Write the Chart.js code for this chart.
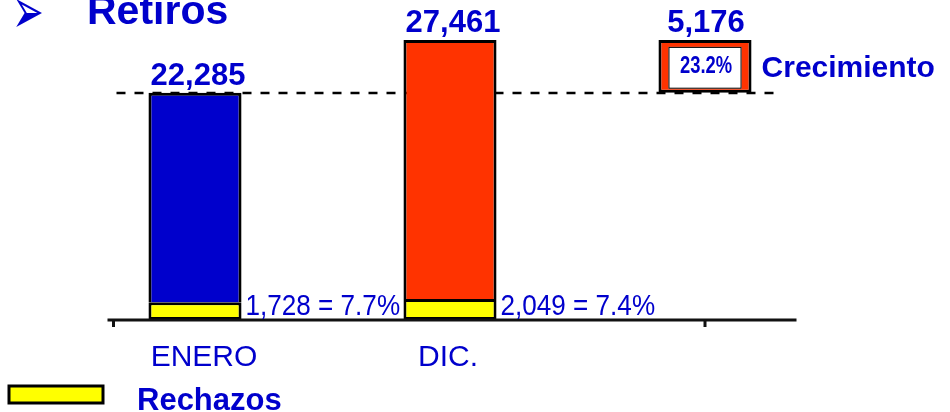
<!DOCTYPE html>
<html>
<head>
<meta charset="utf-8">
<script src="https://cdn.jsdelivr.net/npm/chart.js@4"></script>
<style>
  html, body { margin: 0; padding: 0; background: #fff; }
  #wrap { position: relative; width: 950px; height: 412px; overflow: hidden; }
  canvas { display: block; }
</style>
</head>
<body>
<div id="wrap"><canvas id="retiros" width="950" height="412"></canvas></div>
<script>
// months shown on the axis (third slot holds the growth box)
const categories = ['ENERO', 'DIC.', ''];
const totals = [22285, 27461];
const rechazos = [1728, 2049];
const restante = [20557, 25412];
const rechazoPct = ['7.7%', '7.4%'];
const crecimientoRange = [22285, 27461];
const crecimientoValue = 5176;
const crecimientoPct = '23.2%';

const BLUE = '#0000CC';
const RED = '#FF3300';
const YELLOW = '#FFFF00';
const FONT = '"Liberation Sans", Arial, Helvetica, sans-serif';

const fmt = n => n.toLocaleString('en-US');

const annotate = {
  id: 'annotate',
  beforeDatasetsDraw(chart) {
    const { ctx, scales: { x, y } } = chart;
    const level = Math.round(y.getPixelForValue(totals[0]));
    ctx.save();
    ctx.strokeStyle = '#000';
    ctx.lineWidth = 2.5;
    ctx.setLineDash([9, 9]);
    ctx.beginPath();
    ctx.moveTo(x.left + 49, level);
    ctx.lineTo(x.getPixelForValue(2) + 76, level);
    ctx.stroke();
    ctx.restore();
  },
  afterDatasetsDraw(chart) {
    const { ctx, scales: { x, y } } = chart;
    const base = Math.round(y.getPixelForValue(0));
    const yellowBars = chart.getDatasetMeta(0).data;
    const topBars = chart.getDatasetMeta(1).data;
    const growth = chart.getDatasetMeta(2).data[2];

    ctx.save();
    // axis line + ticks
    ctx.strokeStyle = '#111';
    ctx.lineWidth = 3;
    ctx.beginPath();
    ctx.moveTo(x.left + 40, base);
    ctx.lineTo(x.right - 36, base);
    ctx.stroke();
    [x.left + 46, x.getPixelForValue(2)].forEach(tx => {
      ctx.beginPath();
      ctx.moveTo(tx, base);
      ctx.lineTo(tx, base + 7);
      ctx.stroke();
    });

    ctx.fillStyle = BLUE;
    ctx.textAlign = 'center';
    ctx.textBaseline = 'alphabetic';

    // totals over bars + month labels
    topBars.slice(0, 2).forEach((bar, i) => {
      ctx.font = 'bold 31px ' + FONT;
      ctx.fillText(fmt(totals[i]), bar.x + 3, bar.y - 8);
      ctx.font = '30px ' + FONT;
      ctx.fillText(categories[i], bar.x + (i === 0 ? 9 : -2), base + 46);
    });

    // rechazos labels
    yellowBars.slice(0, 2).forEach((bar, i) => {
      ctx.save();
      ctx.translate(bar.x + bar.width / 2 + 4, base - 5);
      ctx.scale(0.87, 1);
      ctx.font = '30px ' + FONT;
      ctx.textAlign = 'left';
      ctx.fillText(fmt(rechazos[i]) + ' = ' + rechazoPct[i], 0, 0);
      ctx.restore();
    });

    // growth box
    const left = growth.x - growth.width / 2;
    const right = growth.x + growth.width / 2;
    const top = growth.y;
    const bottom = growth.base;
    ctx.fillStyle = '#fff';
    ctx.fillRect(left + 10, top + 7, growth.width - 20, bottom - top - 11);
    ctx.strokeStyle = '#000';
    ctx.lineWidth = 1;
    ctx.strokeRect(left + 10.5, top + 7.5, growth.width - 21, bottom - top - 12);

    ctx.fillStyle = BLUE;
    ctx.font = 'bold 31px ' + FONT;
    ctx.fillText(fmt(crecimientoValue), growth.x + 1, top - 8);

    ctx.save();
    ctx.translate(growth.x + 1, (top + bottom) / 2);
    ctx.scale(0.8, 1);
    ctx.font = 'bold 23px ' + FONT;
    ctx.textBaseline = 'middle';
    ctx.fillText(crecimientoPct, 0, 0);
    ctx.restore();

    ctx.textAlign = 'left';
    ctx.font = 'bold 30px ' + FONT;
    ctx.fillText('Crecimiento', right + 10, (top + bottom) / 2 + 11);

    // title
    ctx.save();
    ctx.translate(12, 33);
    ctx.scale(0.95, 1.6);
    ctx.font = '40px "DejaVu Sans", sans-serif';
    ctx.fillText('\u27A2', 0, 0);
    ctx.restore();
    ctx.font = 'bold 41px ' + FONT;
    ctx.fillText('Retiros', 87, 24);

    // legend
    ctx.fillStyle = YELLOW;
    ctx.fillRect(9, 386, 94, 17);
    ctx.strokeStyle = '#000';
    ctx.lineWidth = 3;
    ctx.strokeRect(9, 386, 94, 17);
    ctx.fillStyle = BLUE;
    ctx.font = 'bold 31px ' + FONT;
    ctx.fillText('Rechazos', 137, 410);
    ctx.restore();
  }
};

new Chart(document.getElementById('retiros'), {
  type: 'bar',
  data: {
    labels: categories,
    datasets: [
      {
        label: 'Rechazos',
        data: [...rechazos, null],
        backgroundColor: YELLOW,
        borderColor: '#000',
        borderWidth: 3,
        borderSkipped: false
      },
      {
        label: 'Retiros',
        data: [...restante, null],
        backgroundColor: [BLUE, RED, RED],
        borderColor: '#000',
        borderWidth: 3,
        borderSkipped: 'bottom'
      },
      {
        label: 'Crecimiento',
        data: [null, null, crecimientoRange],
        backgroundColor: RED,
        borderColor: '#000',
        borderWidth: 3,
        borderSkipped: false
      }
    ]
  },
  options: {
    responsive: false,
    animation: false,
    layout: { padding: { left: 67.5, right: 117.5, top: 14, bottom: 92 } },
    datasets: { bar: { barPercentage: 0.365, categoryPercentage: 1, skipNull: true } },
    scales: {
      x: { display: false, stacked: true },
      y: { display: false, stacked: true, min: 0, max: 30000 }
    },
    plugins: { legend: { display: false }, tooltip: { enabled: false } }
  },
  plugins: [annotate]
});
</script>
</body>
</html>
